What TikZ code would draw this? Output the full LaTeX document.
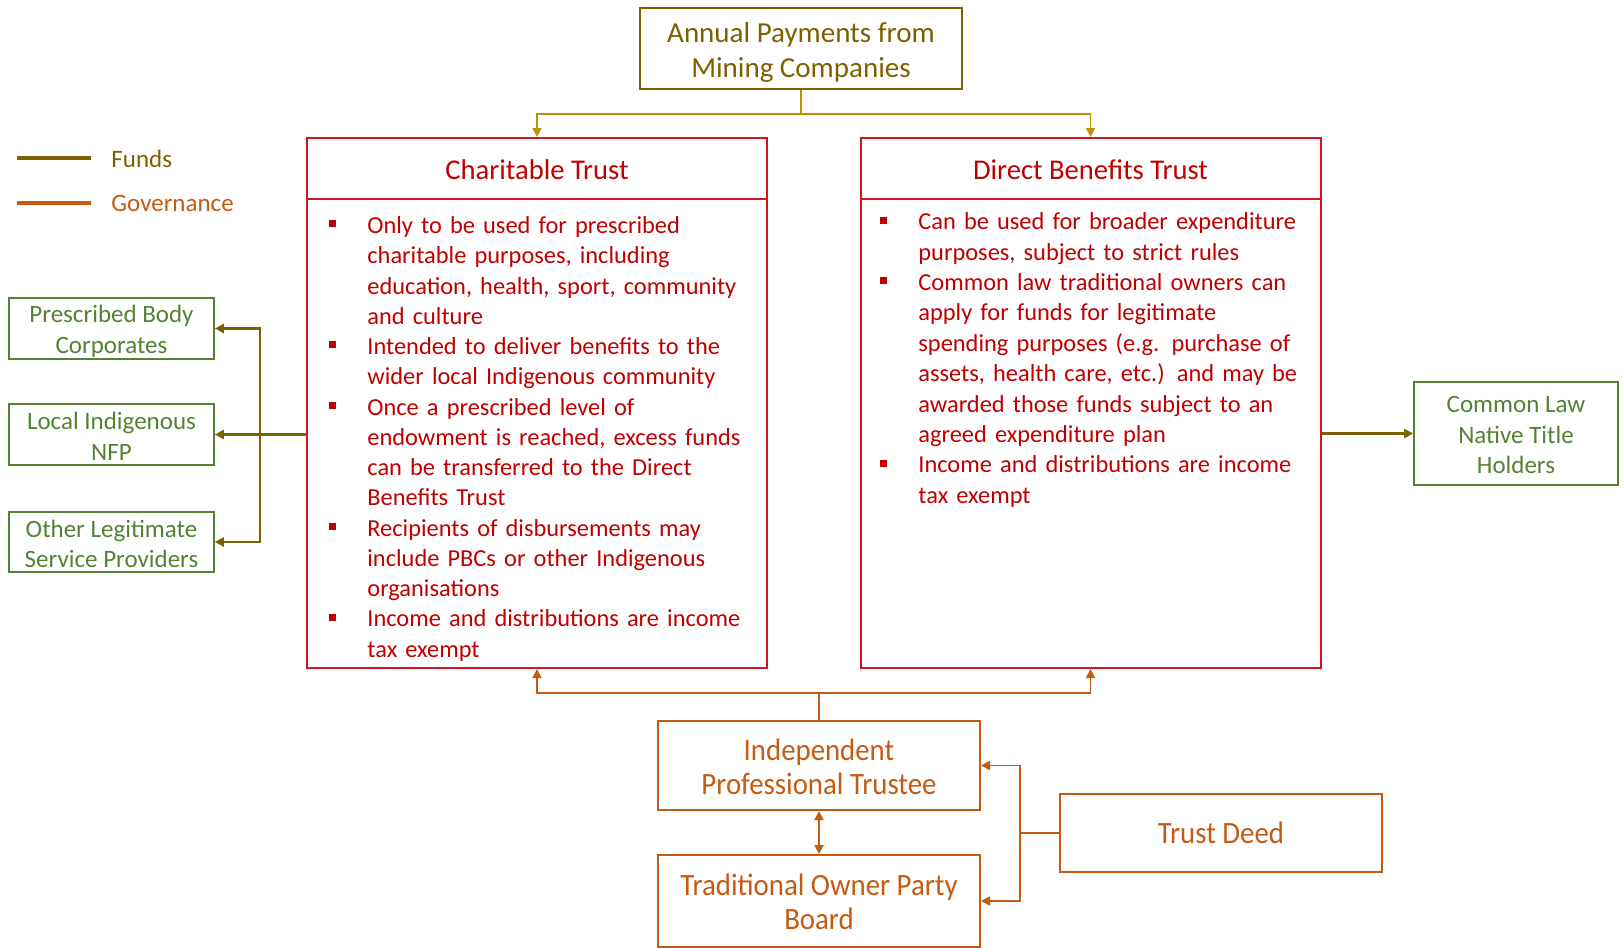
\documentclass[tikz,border=0pt]{standalone}
\usepackage{fontspec}
\setmainfont{Carlito}
\newfontfamily\narrowfont[FakeStretch=0.93]{Carlito}
\usetikzlibrary{positioning,arrows.meta}

\definecolor{fundcol}{HTML}{7F6000}
\definecolor{paycol}{HTML}{BF9000}
\definecolor{govcol}{HTML}{C55A11}
\definecolor{trustcol}{HTML}{C00000}
\definecolor{trustedge}{HTML}{D7141E}
\definecolor{benefcol}{HTML}{548235}

% bullet list with small square marks
\newenvironment{trustlist}{%
  \begin{list}{\raisebox{3.1pt}{\rule{3.5pt}{3.5pt}}}{%
    \setlength\leftmargin{19pt}\setlength\labelwidth{3.5pt}%
    \setlength\labelsep{15.5pt}\setlength\itemsep{0pt}%
    \setlength\topsep{0pt}\setlength\partopsep{0pt}\setlength\parsep{0pt}}\raggedright}%
  {\end{list}}
% pushes the first line of a box down a little
\newcommand\boxstrut[1]{\rule{0pt}{#1}}

\begin{document}
\begin{tikzpicture}[
  x=0.5pt, y=-0.5pt,
  >={Triangle[length=4.5pt,width=4.5pt]},
  keytext/.style={anchor=west, inner sep=0pt, font=\fontsize{12.5}{15}\selectfont},
  fundbox/.style={draw=fundcol, line width=1pt, text=fundcol, align=center, minimum width=161pt, minimum height=39.5pt, font=\fontsize{14.5}{17.5}\selectfont},
  trustbox/.style={draw=trustedge, line width=1pt, minimum width=230pt, minimum height=265pt},
  trusthead/.style={minimum width=230pt, minimum height=30.5pt, text=trustcol, font=\fontsize{14.3}{17}\selectfont, execute at begin node=\boxstrut{11.4pt}},
  trustitems/.style={anchor=north west, inner sep=0pt, text width=222pt, text=trustcol, font=\fontsize{12.2}{15.12}\selectfont},
  benefbox/.style={draw=benefcol, line width=0.8pt, text=benefcol, align=center, inner sep=1pt, minimum width=102.5pt, minimum height=30.5pt, font=\fontsize{12.5}{15.3}\selectfont},
  govbox/.style={draw=govcol, line width=1pt, text=govcol, align=center, minimum width=161pt, minimum height=44.5pt, font=\narrowfont\fontsize{15.5}{17}\selectfont},
  fund/.style={draw=fundcol, line width=1.2pt},
  pay/.style={draw=paycol, line width=0.9pt},
  gov/.style={draw=govcol, line width=0.9pt}
]
\useasboundingbox (0,0) rectangle (1623,948);

% legend
\draw[fundcol, line width=1.8pt] (17,158) -- (91,158);
\node[keytext, text=fundcol] (fundkey) at (111,159) {Funds};
\draw[govcol, line width=1.8pt] (17,203) -- (91,203);
\node[keytext, text=govcol] (govkey) at (111,203) {Governance};

% payments and the two trusts
\node[fundbox] (annual) at (801,48.5) {\boxstrut{14.2pt}Annual Payments from\\Mining Companies};
\node[trustbox] (ct) at (537,403) {};
\node[trusthead, anchor=north] (cthead) at (ct.north) {Charitable Trust};
\draw[trustedge, line width=1pt] (cthead.south west) -- (cthead.south east);
\node[trustbox] (dbt) at (1090.5,403) {};
\node[trusthead, anchor=north] (dbthead) at (dbt.north) {Direct Benefits Trust};
\draw[trustedge, line width=1pt] (dbthead.south west) -- (dbthead.south east);

\node[trustitems] (ctlist) at (329,203) {\begin{trustlist}
  \item Only to be used for prescribed\newline charitable purposes, including\newline education, health, sport, community\newline and culture
  \item Intended to deliver benefits to the\newline wider local Indigenous community
  \item Once a prescribed level of\newline endowment is reached, excess funds\newline can be transferred to the Direct\newline Benefits Trust
  \item Recipients of disbursements may\newline include PBCs or other Indigenous\newline organisations
  \item Income and distributions are income\newline tax exempt
\end{trustlist}};
\node[trustitems, font=\fontsize{12.2}{15.19}\selectfont] (dbtlist) at (880,199) {\begin{trustlist}
  \item Can be used for broader expenditure\newline purposes, subject to strict rules
  \item Common law traditional owners can\newline apply for funds for legitimate\newline spending purposes (e.g. purchase of\newline assets, health care, etc.) and may be\newline awarded those funds subject to an\newline agreed expenditure plan
  \item Income and distributions are income\newline tax exempt
\end{trustlist}};

% recipients
\node[benefbox] (pbc) at (111.5,328.5) {\boxstrut{11.4pt}Prescribed Body\\Corporates};
\node[benefbox] (nfp) at (111.5,434.5) {\boxstrut{10.4pt}Local Indigenous\\NFP};
\node[benefbox, minimum height=30pt] (other) at (111.5,542) {\boxstrut{10.4pt}Other Legitimate\\Service Providers};
\node[benefbox, minimum width=102pt, minimum height=51.5pt] (clnth) at (1516,433.5) {\boxstrut{9.9pt}Common Law\\Native Title\\Holders};

% governance
\node[govbox] (ipt) at (819,765.5) {\boxstrut{11.8pt}Independent\\Professional Trustee};
\node[govbox, minimum height=46pt] (topb) at (819,901) {\boxstrut{11.7pt}Traditional Owner Party\\Board};
\node[govbox, minimum height=39pt, execute at begin node=\boxstrut{11pt}] (deed) at (1221,833) {Trust Deed};

\draw[pay,->] (annual.south) -- ++(0,24) -| (ct.north);
\draw[pay,->] (annual.south) -- ++(0,24) -| (dbt.north);

\draw[fund,->] (ct.west |- nfp.east) -- (nfp.east);
\draw[fund,->] (ct.west |- nfp.east) -- ++(-46,0) |- (pbc.east);
\draw[fund,->] (ct.west |- nfp.east) -- ++(-46,0) |- (other.east);
\draw[fund,->] (dbt.east |- clnth.west) -- (clnth.west);

\draw[gov,->] (ipt.north) -- ++(0,-27) -| (ct.south);
\draw[gov,->] (ipt.north) -- ++(0,-27) -| (dbt.south);
\draw[gov,<->] (ipt) -- (topb);
\draw[gov,->] (deed.west) -- ++(-39,0) |- (ipt.east);
\draw[gov,->] (deed.west) -- ++(-39,0) |- (topb.east);
\end{tikzpicture}
\end{document}
